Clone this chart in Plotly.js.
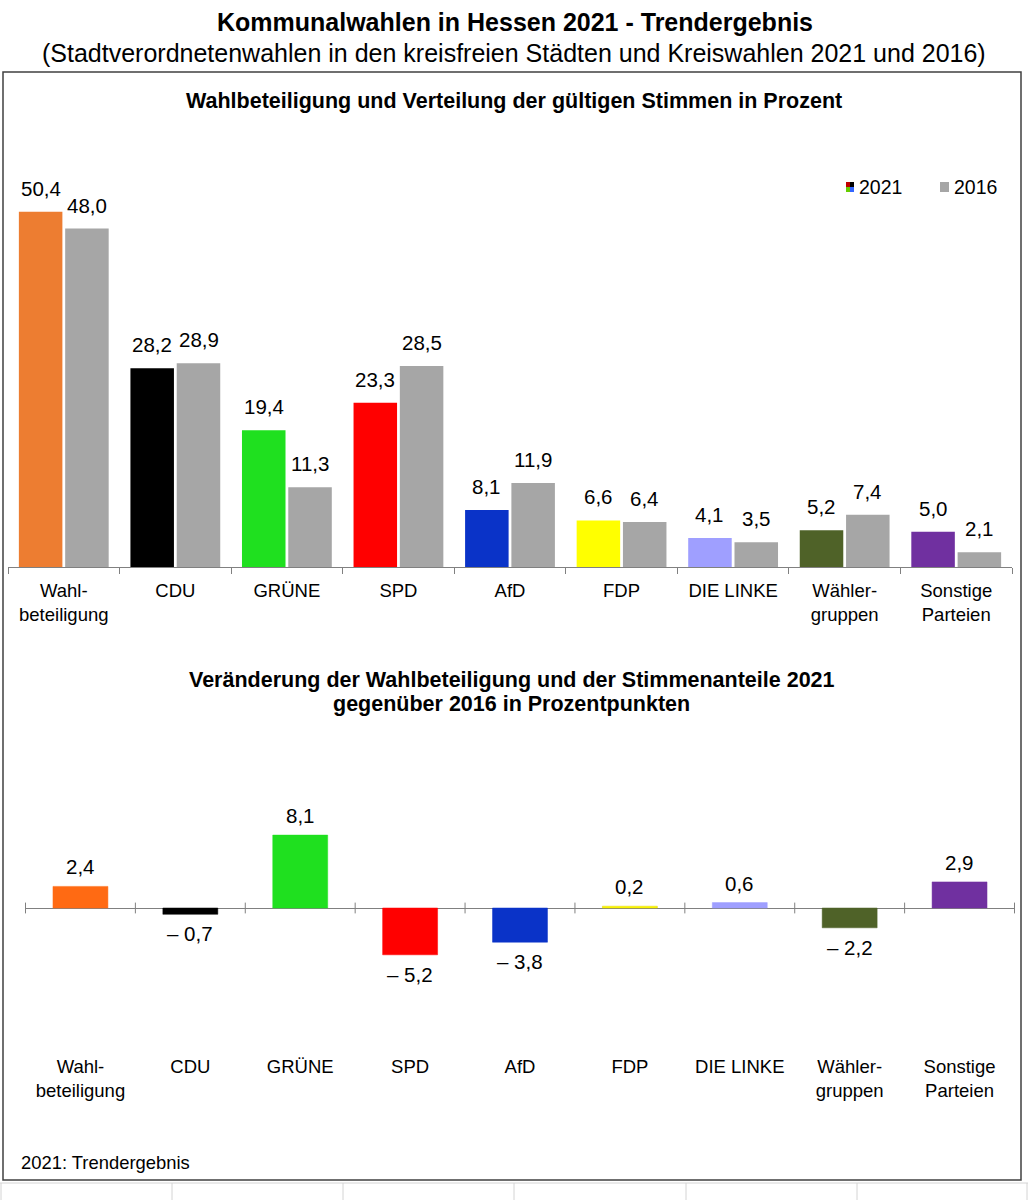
<!DOCTYPE html>
<html>
<head>
<meta charset="utf-8">
<script src="https://cdn.plot.ly/plotly-3.0.1.min.js"></script>
<style>
  html, body { margin: 0; padding: 0; background: #ffffff; }
  #chart { width: 1028px; height: 1200px; }
</style>
</head>
<body>
<div id="chart"></div>
<script>
// ---- Data ----
const categories = ['Wahl-<br>beteiligung', 'CDU', 'GRÜNE', 'SPD', 'AfD', 'FDP', 'DIE LINKE', 'Wähler-<br>gruppen', 'Sonstige<br>Parteien'];
const share2021 = [50.4, 28.2, 19.4, 23.3, 8.1, 6.6, 4.1, 5.2, 5.0];
const share2016 = [48.0, 28.9, 11.3, 28.5, 11.9, 6.4, 3.5, 7.4, 2.1];
const change = [2.4, -0.7, 8.1, -5.2, -3.8, 0.2, 0.6, -2.2, 2.9];
const seriesNames = ['2021', '2016'];

// ---- Styles ----
const colorsTop = ['#ED7D31', '#000000', '#1FE01F', '#FF0000', '#0A33C8', '#FFFF00', '#9F9FFF', '#4F6228', '#7030A0'];
const colorsBottom = ['#FF6A13', '#000000', '#1FE01F', '#FF0000', '#0A33C8', '#FFFF00', '#9F9FFF', '#4F6228', '#7030A0'];
const gray2016 = '#A6A6A6';
const FONT = 'Liberation Sans, Arial, sans-serif';
const W = 1028, H = 1200;
const px = v => v / W;
const py = v => 1 - v / H;

function fmt(v) {
  const s = Math.abs(v).toFixed(1).replace('.', ',');
  return v < 0 ? '\u2013 ' + s : s;
}

// scales
const topBase = 567, topTop = 150, topScale = 7.05;
const botZero = 908, botTop = 740, botBottom = 1045, botScale = 9.0;
const LBL = 20.5;

const traces = [
  {
    type: 'bar', name: seriesNames[0], x: categories, y: share2021,
    marker: { color: colorsTop }, xaxis: 'x', yaxis: 'y', showlegend: false, hoverinfo: 'skip'
  },
  {
    type: 'bar', name: seriesNames[1], x: categories, y: share2016,
    marker: { color: gray2016 }, xaxis: 'x', yaxis: 'y', showlegend: false, hoverinfo: 'skip'
  },
  {
    type: 'bar', name: 'Veränderung', x: categories, y: change, width: 0.5,
    marker: { color: colorsBottom, line: { color: colorsBottom.map((c, i) => i === 5 ? '#E0D000' : c), width: 0.5 } },
    xaxis: 'x2', yaxis: 'y2', showlegend: false, hoverinfo: 'skip'
  }
];

const annotations = [];
// titles
annotations.push({ xref: 'paper', yref: 'paper', x: px(515), y: py(22), text: '<b>Kommunalwahlen in Hessen 2021 - Trendergebnis</b>', showarrow: false, xanchor: 'center', yanchor: 'middle', font: { family: FONT, size: 25, color: '#000' } });
annotations.push({ xref: 'paper', yref: 'paper', x: px(514), y: py(53), text: '(Stadtverordnetenwahlen in den kreisfreien Städten und Kreiswahlen 2021 und 2016)', showarrow: false, xanchor: 'center', yanchor: 'middle', font: { family: FONT, size: 25, color: '#000' } });
annotations.push({ xref: 'paper', yref: 'paper', x: px(514), y: py(101), text: '<b>Wahlbeteiligung und Verteilung der gültigen Stimmen in Prozent</b>', showarrow: false, xanchor: 'center', yanchor: 'middle', font: { family: FONT, size: 21.5, color: '#000' } });
annotations.push({ xref: 'paper', yref: 'paper', x: px(512), y: py(680), text: '<b>Veränderung der Wahlbeteiligung und der Stimmenanteile 2021</b>', showarrow: false, xanchor: 'center', yanchor: 'middle', font: { family: FONT, size: 21.5, color: '#000' } });
annotations.push({ xref: 'paper', yref: 'paper', x: px(511), y: py(704), text: '<b>gegenüber 2016 in Prozentpunkten</b>', showarrow: false, xanchor: 'center', yanchor: 'middle', font: { family: FONT, size: 21.5, color: '#000' } });
annotations.push({ xref: 'paper', yref: 'paper', x: px(19), y: py(1162), text: '2021: Trendergebnis', showarrow: false, xanchor: 'left', yanchor: 'middle', font: { family: FONT, size: 18.4, color: '#000' } });

// legend (manual)
annotations.push({ xref: 'paper', yref: 'paper', x: px(857), y: py(187), text: seriesNames[0], showarrow: false, xanchor: 'left', yanchor: 'middle', font: { family: FONT, size: 19.5, color: '#000' } });
annotations.push({ xref: 'paper', yref: 'paper', x: px(952), y: py(187), text: seriesNames[1], showarrow: false, xanchor: 'left', yanchor: 'middle', font: { family: FONT, size: 19.5, color: '#000' } });

// data labels
const slotShift = 23.2;
categories.forEach((c, i) => {
  annotations.push({ xref: 'x', yref: 'y', x: c, y: share2021[i], xshift: -slotShift, yshift: 10, text: fmt(share2021[i]), showarrow: false, xanchor: 'center', yanchor: 'bottom', font: { family: FONT, size: LBL, color: '#000' } });
  annotations.push({ xref: 'x', yref: 'y', x: c, y: share2016[i], xshift: slotShift, yshift: 10, text: fmt(share2016[i]), showarrow: false, xanchor: 'center', yanchor: 'bottom', font: { family: FONT, size: LBL, color: '#000' } });
  const v = change[i];
  annotations.push({ xref: 'x2', yref: 'y2', x: c, y: v, yshift: v < 0 ? -6 : 6, text: fmt(v), showarrow: false, xanchor: 'center', yanchor: v < 0 ? 'top' : 'bottom', font: { family: FONT, size: LBL, color: '#000' } });
});

const shapes = [];
// outer border
shapes.push({ type: 'rect', xref: 'paper', yref: 'paper', x0: px(3), x1: px(1021), y0: py(1180), y1: py(72), line: { color: '#404040', width: 1.5 }, fillcolor: 'rgba(0,0,0,0)' });
// spreadsheet cell grid below the chart
shapes.push({ type: 'line', xref: 'paper', yref: 'paper', x0: 0, x1: 1, y0: py(1183), y1: py(1183), line: { color: '#D4D4D4', width: 1 } });
[1, 172, 343, 514, 686, 857, 1027].forEach(xp => {
  shapes.push({ type: 'line', xref: 'paper', yref: 'paper', x0: px(xp), x1: px(xp), y0: py(1183), y1: 0, line: { color: '#D4D4D4', width: 1 } });
});
// tick marks crossing the zero line in the bottom chart
for (let i = 0; i <= categories.length; i++) {
  shapes.push({ type: 'line', xref: 'x2', yref: 'y2', x0: i - 0.5, x1: i - 0.5, y0: -0.6, y1: 0.6, line: { color: '#808080', width: 1 } });
}
// legend swatches
const lgTop = 182, lgBot = 192;
const quad = [['#C00000', '#000000'], ['#66CC00', '#3366FF']];
[[846, 850], [850, 854]].forEach((xs, ci) => {
  [[lgTop, 187], [187, lgBot]].forEach((ys, ri) => {
    shapes.push({ type: 'rect', xref: 'paper', yref: 'paper', x0: px(xs[0]), x1: px(xs[1]), y0: py(ys[1]), y1: py(ys[0]), line: { width: 0 }, fillcolor: quad[ri][ci] });
  });
});
shapes.push({ type: 'rect', xref: 'paper', yref: 'paper', x0: px(940), x1: px(949), y0: py(lgBot), y1: py(lgTop), line: { width: 0 }, fillcolor: gray2016 });

const layout = {
  width: W, height: H, autosize: false,
  margin: { l: 0, r: 0, t: 0, b: 0, pad: 0 },
  paper_bgcolor: '#ffffff', plot_bgcolor: 'rgba(0,0,0,0)',
  font: { family: FONT, size: 18, color: '#000' },
  barmode: 'group', bargap: 0.17, bargroupgap: 0.06,
  showlegend: false,
  xaxis: {
    domain: [px(8), px(1012)], anchor: 'y', type: 'category',
    showline: true, linecolor: '#808080', linewidth: 1,
    ticks: 'outside', ticklen: 6, tickcolor: '#808080', tickson: 'boundaries',
    ticklabelstandoff: 7,
    showgrid: false, zeroline: false, fixedrange: true,
    tickfont: { family: FONT, size: 18.5, color: '#000' }
  },
  yaxis: {
    domain: [py(topBase), py(topTop)], anchor: 'x',
    range: [0, (topBase - topTop) / topScale],
    visible: false, showgrid: false, zeroline: false, fixedrange: true
  },
  xaxis2: {
    domain: [px(25), px(1015)], anchor: 'y2', type: 'category',
    showline: false, ticks: '', showgrid: false, zeroline: false, fixedrange: true,
    ticklabelstandoff: 8,
    tickfont: { family: FONT, size: 18.5, color: '#000' }
  },
  yaxis2: {
    domain: [py(botBottom), py(botTop)], anchor: 'x2',
    range: [-(botBottom - botZero) / botScale, (botZero - botTop) / botScale],
    showgrid: false, showticklabels: false, ticks: '', showline: false,
    zeroline: true, zerolinecolor: '#808080', zerolinewidth: 1, fixedrange: true
  },
  annotations: annotations,
  shapes: shapes
};

Plotly.newPlot('chart', traces, layout, { staticPlot: true, displayModeBar: false });
</script>
</body>
</html>
